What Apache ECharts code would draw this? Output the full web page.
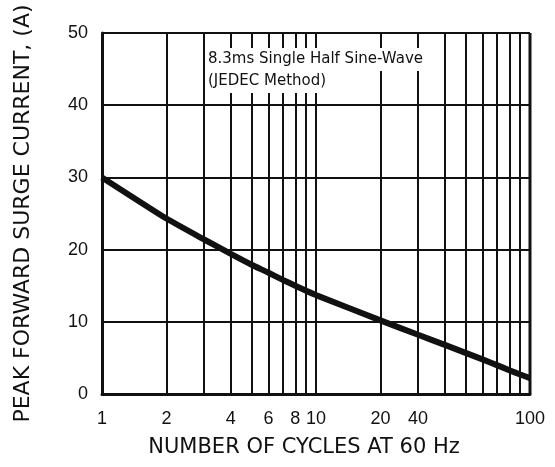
<!DOCTYPE html>
<html>
<head>
<meta charset="utf-8">
<script src="https://cdn.jsdelivr.net/npm/echarts@6/dist/echarts.min.js"></script>
<style>html,body{margin:0;padding:0;background:#fff;}#c{width:555px;height:467px;}</style>
</head>
<body>
<div id="c"></div>
<script>
// Data
var cycles  = [1, 2, 3, 4, 5, 6, 7, 8, 9, 10, 20, 30, 40, 50, 60, 70, 80, 90, 100];
var current = [30, 24.3, 21.4, 19.4, 17.9, 16.8, 15.8, 15.0, 14.3, 13.7, 10.2, 8.2, 6.8, 5.7, 4.8, 4.0, 3.3, 2.7, 2.2];
var minorGridX = [2, 3, 4, 5, 6, 7, 8, 9, 20, 30, 40, 50, 60, 70, 80, 90];
var xTickValues = [1, 2, 4, 6, 8, 10, 20, 30, 100];
var xTickTexts  = ['1', '2', '4', '6', '8', '10', '20', '40', '100'];
var noteLines = ['8.3ms Single Half Sine-Wave', '(JEDEC Method)'];

var chart = echarts.init(document.getElementById('c'));
var ink = '#111';
chart.setOption({
  backgroundColor: '#fff',
  animation: false,
  grid: { left: 102, right: 25, top: 33, bottom: 73 },
  xAxis: {
    type: 'log', logBase: 10, min: 1, max: 100,
    name: 'NUMBER OF CYCLES AT 60 Hz', nameLocation: 'middle', nameGap: 43,
    nameTextStyle: { color: ink, fontSize: 21, fontFamily: 'DejaVu Sans', padding: [0, 24, 0, 0] },
    axisLine: { show: true, lineStyle: { color: ink, width: 3 } },
    axisTick: { show: false },
    splitLine: { show: true, lineStyle: { color: ink, width: 2 } },
    axisLabel: {
      color: ink, fontSize: 18, fontFamily: 'Liberation Sans', margin: 16,
      customValues: xTickValues,
      formatter: function (v) {
        var i = xTickValues.indexOf(Math.round(v));
        return i >= 0 ? xTickTexts[i] : '';
      }
    }
  },
  yAxis: {
    type: 'value', min: 0, max: 50, interval: 10,
    name: 'PEAK FORWARD SURGE CURRENT, (A)', nameLocation: 'middle', nameGap: 68,
    nameTextStyle: { color: ink, fontSize: 22, fontFamily: 'DejaVu Sans' },
    axisLine: { show: true, lineStyle: { color: ink, width: 3 } },
    axisTick: { show: false },
    splitLine: { show: true, lineStyle: { color: ink, width: 2 } },
    axisLabel: { color: ink, fontSize: 18, fontFamily: 'Liberation Sans', margin: 14 }
  },
  graphic: [
    { type: 'text', left: 205, top: 48, z: 10,
      style: { text: noteLines[0], fill: ink, font: '15px "DejaVu Sans"', backgroundColor: '#fff', padding: [4, 3, 4, 3] } },
    { type: 'text', left: 205, top: 70, z: 11,
      style: { text: noteLines[1], fill: ink, font: '15px "DejaVu Sans"', backgroundColor: '#fff', padding: [4, 3, 4, 3] } }
  ],
  series: [
    {
      type: 'line',
      data: cycles.map(function (c, i) { return [c, current[i]]; }),
      smooth: 0.15,
      showSymbol: false,
      lineStyle: { color: ink, width: 6 },
      z: 5,
      markLine: {
        silent: true, symbol: 'none', animation: false,
        label: { show: false },
        lineStyle: { color: ink, width: 2, type: 'solid' },
        data: minorGridX.map(function (v) { return { xAxis: v }; })
      }
    },
    {
      type: 'line', data: [[100, 0], [100, 50]], showSymbol: false,
      lineStyle: { color: ink, width: 3 }, silent: true, z: 4
    }
  ]
});
</script>
</body>
</html>
